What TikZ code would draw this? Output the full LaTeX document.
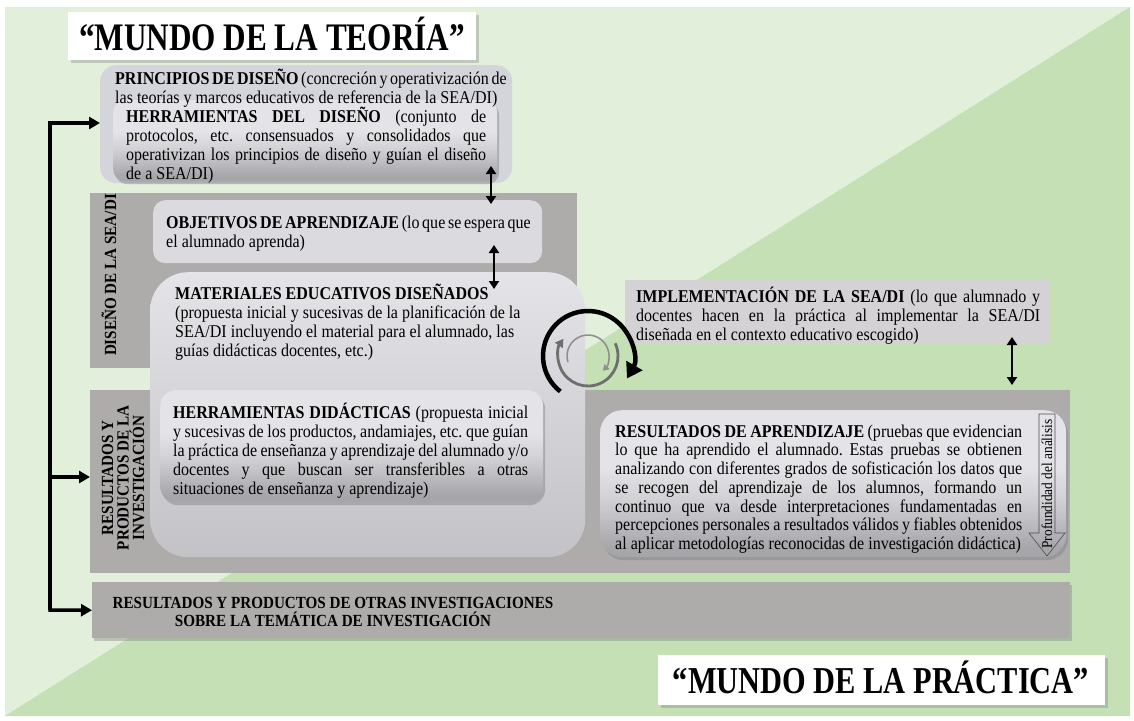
\documentclass[tikz,border=0pt]{standalone}
\usepackage{fontspec}
\setmainfont{Liberation Serif}[FakeStretch=0.89]
\newfontfamily\titlefont{Liberation Serif}[FakeStretch=0.8]
\usetikzlibrary{arrows.meta,shadows,calc}
\definecolor{bglight}{HTML}{E2EFDA}
\definecolor{bgdark}{HTML}{C5E0B4}
\definecolor{bandgray}{HTML}{AEABAB}
\definecolor{lav}{HTML}{D4D4DB}
\definecolor{objfill}{HTML}{DADADF}
\definecolor{impfill}{HTML}{D4D2D5}
\definecolor{shlt}{HTML}{E4E4E8}
\definecolor{shmd}{HTML}{D2D2D6}
\definecolor{shdk}{HTML}{A6A6AA}
\definecolor{sfdk}{HTML}{C3C3C7}
\definecolor{cyc1}{HTML}{6E6E6E}
\definecolor{cyc2}{HTML}{909090}
\pgfdeclareverticalshading{deepbox}{100bp}{color(0bp)=(shdk); color(28bp)=(shdk); color(45bp)=(shmd); color(56bp)=(shlt); color(100bp)=(shlt)}
\pgfdeclareverticalshading{softbox}{100bp}{color(0bp)=(sfdk); color(25bp)=(sfdk); color(75bp)=(shlt); color(100bp)=(shlt)}
\newcommand{\jl}[2]{\makebox[#1pt][s]{#2}}
\frenchspacing
\begin{document}
\begin{tikzpicture}[x=1pt,y=-1pt,
  box/.style={rectangle, anchor=north west, inner sep=0pt},
  bandbox/.style={box, fill=bandgray},
  deep/.style={box, shading=deepbox, drop shadow={shadow xshift=2pt, shadow yshift=-3pt, opacity=0.45}},
  titlebox/.style={box, fill=white, drop shadow={shadow xshift=3pt, shadow yshift=-3pt, opacity=0.35}},
  txt/.style={anchor=north west, inner sep=0pt, align=left, font=\fontsize{18}{19}\selectfont},
  conn/.style={line width=3.5pt, line join=miter, -{Triangle[length=11pt,width=12pt]}},
  dbl/.style={line width=2.2pt, {Triangle[length=8pt,width=10pt]}-{Triangle[length=8pt,width=10pt]}}
]
\useasboundingbox (0,0) rectangle (1134,720);
\fill[white] (0,0) rectangle (1134,720);
\fill[bglight] (5,7) rectangle (1130,716);
\fill[bgdark] (1130,7) -- (1130,716) -- (5,716) -- cycle;

% bands
\node[bandbox, minimum width=487, minimum height=175] (desband) at (90,193) {};
\node[bandbox, minimum width=980, minimum height=183] (resband) at (90,390) {};

% boxes
\node[box, fill=lav, rounded corners=16pt, minimum width=412, minimum height=118] (princ) at (100,65) {};
\node[deep, rounded corners=12pt, minimum width=384, minimum height=81] (herrd) at (113,100) {};
\node[box, fill=objfill, rounded corners=12pt, minimum width=389, minimum height=63] (obj) at (153,200) {};
\node[box, shading=softbox, rounded corners=38pt, minimum width=435, minimum height=285] (mat) at (150,272) {};
\node[deep, rounded corners=16pt, minimum width=383, minimum height=112] (herrdid) at (160,390) {};
\node[box, fill=impfill, minimum width=425, minimum height=63] (imp) at (625,280) {};
\node[deep, rounded corners=22pt, minimum width=466, minimum height=147] (res) at (600,410) {};
\node[bandbox, minimum width=978, minimum height=56, drop shadow={shadow xshift=2pt, shadow yshift=-3pt, opacity=0.4}] (botbox) at (92,582) {};
\node[titlebox, minimum width=408, minimum height=48] (tt1) at (68,12) {};
\node[titlebox, minimum width=447, minimum height=50] (tt2) at (658,655) {};

% texts
\node[anchor=base, inner sep=0pt, font=\titlefont\fontsize{39}{43}\selectfont\bfseries] (tt1txt) at (272,50) {“MUNDO DE LA TEORÍA”};
\node[anchor=base, inner sep=0pt, font=\titlefont\fontsize{38}{42}\selectfont\bfseries] (tt2txt) at (881,693) {“MUNDO DE LA PRÁCTICA”};

\node[txt] (tprinc) at (115,69) {\strut\jl{390}{\textbf{PRINCIPIOS DE DISEÑO} (concreción y operativización de}\\las teorías y marcos educativos de referencia de la SEA/DI)};
\node[txt] (therrd) at (126,107) {\strut\jl{360}{\textbf{HERRAMIENTAS DEL DISEÑO} (conjunto de}\\\jl{360}{protocolos, etc. consensuados y consolidados que}\\\jl{360}{operativizan los principios de diseño y guían el diseño}\\de a SEA/DI)};
\node[txt] (tobj) at (166,215) {\strut\jl{364}{\textbf{OBJETIVOS DE APRENDIZAJE} (lo que se espera que}\\el alumnado aprenda)};
\node[txt] (tmat) at (175,284) {\strut\textbf{MATERIALES EDUCATIVOS DISEÑADOS}\\(propuesta inicial y sucesivas de la planificación de la\\SEA/DI incluyendo el material para el alumnado, las\\guías didácticas docentes, etc.)};
\node[txt] (therrdid) at (173,403) {\strut\jl{355}{\textbf{HERRAMIENTAS DIDÁCTICAS} (propuesta inicial}\\\jl{355}{y sucesivas de los productos, andamiajes, etc. que guían}\\\jl{355}{la práctica de enseñanza y aprendizaje del alumnado y/o}\\\jl{355}{docentes y que buscan ser transferibles a otras}\\situaciones de enseñanza y aprendizaje)};
\node[txt] (timp) at (636,287) {\strut\jl{404}{\textbf{IMPLEMENTACIÓN DE LA SEA/DI} (lo que alumnado y}\\\jl{404}{docentes hacen en la práctica al implementar la SEA/DI}\\diseñada en el contexto educativo escogido)};
\node[txt, font=\fontsize{18}{18.7}\selectfont] (tres) at (615,424) {\strut\jl{407}{\textbf{RESULTADOS DE APRENDIZAJE} (pruebas que evidencian}\\\jl{407}{lo que ha aprendido el alumnado. Estas pruebas se obtienen}\\\jl{407}{analizando con diferentes grados de sofisticación los datos que}\\\jl{407}{se recogen del aprendizaje de los alumnos, formando un}\\\jl{407}{continuo que va desde interpretaciones fundamentadas en}\\\jl{407}{percepciones personales a resultados válidos y fiables obtenidos}\\al aplicar metodologías reconocidas de investigación didáctica)};

\node[align=center, inner sep=0pt, font=\bfseries\fontsize{17}{18}\selectfont] (tbot) at (333,612) {RESULTADOS Y PRODUCTOS DE OTRAS INVESTIGACIONES\\SOBRE LA TEMÁTICA DE INVESTIGACIÓN};
\node[rotate=90, inner sep=0pt, font=\bfseries\fontsize{17}{17}\selectfont] (ldes) at (109,275) {DISEÑO DE LA SEA/DI};
\node[rotate=90, align=center, inner sep=0pt, font=\bfseries\fontsize{17}{15.5}\selectfont] (lres) at (123,478) {RESULTADOS Y\\PRODUCTOS DE LA\\INVESTIGACIÓN};

% depth arrow
\draw[shading=deepbox, draw=black!70, line width=0.6pt] (1039,414) -- (1055,414) -- (1055,533) -- (1065,533) -- (1047,556) -- (1029,533) -- (1039,533) -- cycle;
\node[rotate=90, inner sep=0pt, font=\fontsize{15}{15}\selectfont] (tprof) at (1047,484) {Profundidad del análisis};

% left connector
\coordinate (ltop) at (50,123);
\coordinate (lmid) at (50,477);
\coordinate (lbot) at (50,610);
\draw[conn] (lbot) -- (ltop) -- (princ.west |- ltop);
\draw[conn] (ltop) -- (lbot) -- (botbox.west);
\draw[conn] (lmid) -- (resband.west |- lmid);

% double arrows
\coordinate (d1a) at (491,166); \coordinate (d1b) at (491,204);
\coordinate (d2a) at (494,245); \coordinate (d2b) at (494,289);
\coordinate (d3a) at (1012,337); \coordinate (d3b) at (1012,385);
\draw[dbl] (d1a) -- (d1b);
\draw[dbl] (d2a) -- (d2b);
\draw[dbl] (d3a) -- (d3b);

% cycle
\begin{scope}[shift={(588,356)}, x=1pt, y=1pt]
\draw[line width=4.5pt, -{Triangle[length=15pt,width=18pt]}] (232:45) arc[start angle=232, end angle=-30, radius=45];
\draw[line width=2.8pt, draw=cyc1, -{Triangle[length=8pt,width=9pt]}] (25:30) arc[start angle=25, end angle=-215, radius=30];
\draw[line width=1.6pt, draw=cyc2, -{Triangle[length=6pt,width=7pt]}] (197:21) arc[start angle=197, end angle=-45, radius=21];
\end{scope}
\end{tikzpicture}
\end{document}
